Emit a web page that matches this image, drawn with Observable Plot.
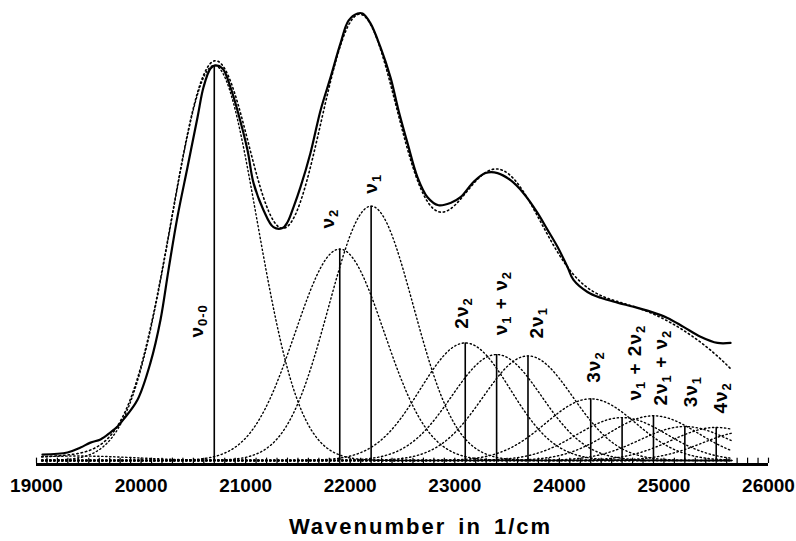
<!DOCTYPE html>
<html><head><meta charset="utf-8">
<script src="https://cdn.jsdelivr.net/npm/d3@7"></script>
<script src="https://cdn.jsdelivr.net/npm/@observablehq/plot@0.6"></script>
<style>body{margin:0;background:#fff}</style>
</head><body><div id="chart"></div>
<script>
const expWavenumber = [19057,19296,19421,19516,19612,19708,19775,19832,19966,20090,20186,20262,20348,20444,20540,20597,20664,20712,20779,20855,20922,21018,21075,21171,21266,21353,21400,21458,21525,21620,21716,21812,21907,21984,22070,22118,22194,22290,22385,22462,22548,22643,22739,22844,22959,23055,23179,23294,23409,23533,23657,23791,23887,23982,24078,24135,24269,24394,24556,24709,24872,25034,25187,25350,25512,25637];
const expIntensity = [0.013,0.018,0.029,0.040,0.047,0.063,0.076,0.092,0.136,0.219,0.315,0.426,0.545,0.656,0.768,0.835,0.877,0.884,0.877,0.835,0.783,0.694,0.621,0.560,0.522,0.520,0.533,0.567,0.612,0.688,0.783,0.857,0.933,0.984,1.000,1.000,0.978,0.924,0.857,0.783,0.710,0.634,0.589,0.571,0.576,0.589,0.623,0.643,0.643,0.627,0.598,0.554,0.516,0.478,0.433,0.404,0.377,0.364,0.353,0.344,0.333,0.319,0.299,0.277,0.263,0.263];

// Gaussian components of the fit (dotted): label, centre, peak height, sigma
const bandLabels  = ["", "ν_{0-0}", "ν_2", "ν_1", "2ν_2", "ν_1 + ν_2", "2ν_1", "3ν_2", "ν_1 + 2ν_2", "2ν_1 + ν_2", "3ν_1", "4ν_2", ""];
const bandCenters = [19400, 20700, 21900, 22200, 23100, 23400, 23700, 24300, 24600, 24900, 25200, 25500, 25800];
const bandHeights = [0.010, 0.884, 0.473, 0.569, 0.263, 0.237, 0.234, 0.138, 0.096, 0.100, 0.076, 0.074, 0.065];
const bandSigmas  = [550, 410, 425, 405, 430, 430, 430, 430, 430, 430, 430, 430, 430];

// Label anchor points (wavenumber, intensity)
const labelWavenumber = [null, 20530, 21783, 22194, 23064, 23437, 23781, 24327, 24719, 24967, 25254, 25541, null];
const labelIntensity  = [null, 0.275, 0.519, 0.597, 0.295, 0.280, 0.273, 0.174, 0.134, 0.123, 0.119, 0.105, null];

const xTicks = [19000, 20000, 21000, 22000, 23000, 24000, 25000, 26000];
const minorTicks = d3.range(19000, 26001, 100);
const xTitle = "Wavenumber in 1/cm";

const experimental = expWavenumber.map((x, i) => ({x, y: expIntensity[i]}));
const grid = d3.range(19050, 25651, 10);
const gauss = (i, x) => bandHeights[i] * Math.exp(-((x - bandCenters[i]) ** 2) / (2 * bandSigmas[i] ** 2));
const components = bandCenters.flatMap((c, i) => grid.map(x => ({band: i, x, y: gauss(i, x)})));
const fit = grid.map(x => ({x, y: bandCenters.reduce((s, c, i) => s + gauss(i, x), 0)}));
const bands = bandCenters.map((c, i) => ({c, h: bandHeights[i], label: bandLabels[i], lx: labelWavenumber[i], ly: labelIntensity[i]})).filter(d => d.label);

const font = "Liberation Sans, Arial, Helvetica, sans-serif";

const chart = Plot.plot({
  width: 796, height: 541,
  marginLeft: 36, marginRight: 28, marginTop: 13, marginBottom: 81,
  x: {domain: [19000, 26000]},
  y: {domain: [0, 1], axis: null},
  style: {background: "white", fontFamily: font, color: "black"},
  marks: [
    Plot.line(components, {x: "x", y: "y", z: "band", stroke: "black", strokeWidth: 1.4, strokeDasharray: "1.3,2.7"}),
    Plot.line(fit, {x: "x", y: "y", stroke: "black", strokeWidth: 1.6, strokeDasharray: "1.4,3"}),
    Plot.ruleX(bands, {x: "c", y1: 0, y2: "h", stroke: "black", strokeWidth: 1.6}),
    Plot.line(experimental, {x: "x", y: "y", stroke: "black", strokeWidth: 2.2, curve: "catmull-rom"}),
    Plot.ruleX(minorTicks, {x: d => d, y1: 0, y2: 0.012, dy: 3, stroke: "black", strokeWidth: 1.2}),
    Plot.ruleY([0], {x1: 19000, x2: 26000, dy: 4, stroke: "black", strokeWidth: 3}),
    Plot.axisX({ticks: xTicks, tickSize: 0, tickPadding: 18, tickFormat: d => String(d), fontSize: 19, fontWeight: "bold", label: null}),
    Plot.text(bands, {x: "lx", y: "ly", text: "label", rotate: -90, textAnchor: "start", fontSize: 19, fontWeight: "bold", fill: "black"}),
    Plot.text([xTitle], {frameAnchor: "bottom", dx: 18, dy: 73, fontSize: 22, fontWeight: "bold", fill: "black"})
  ]
});

// subscripts and title spacing
d3.select(chart).selectAll("text").each(function() {
  const t = this.textContent;
  if (t === xTitle) { this.style.letterSpacing = "2px"; this.style.wordSpacing = "4px"; return; }
  if (!t.includes("_")) return;
  this.style.letterSpacing = "1px";
  const parts = t.split(/(_\{[^}]*\}|_\S)/).filter(s => s.length);
  this.textContent = "";
  let shifted = false;
  for (const p of parts) {
    const ts = document.createElementNS("http://www.w3.org/2000/svg", "tspan");
    if (p.startsWith("_")) {
      ts.textContent = p.startsWith("_{") ? p.slice(2, -1) : p.slice(1);
      ts.setAttribute("font-size", "13");
      ts.setAttribute("dy", "4");
      shifted = true;
    } else {
      ts.textContent = p;
      if (shifted) { ts.setAttribute("dy", "-4"); shifted = false; }
    }
    this.appendChild(ts);
  }
});

document.getElementById("chart").appendChild(chart);
</script>
</body></html>
